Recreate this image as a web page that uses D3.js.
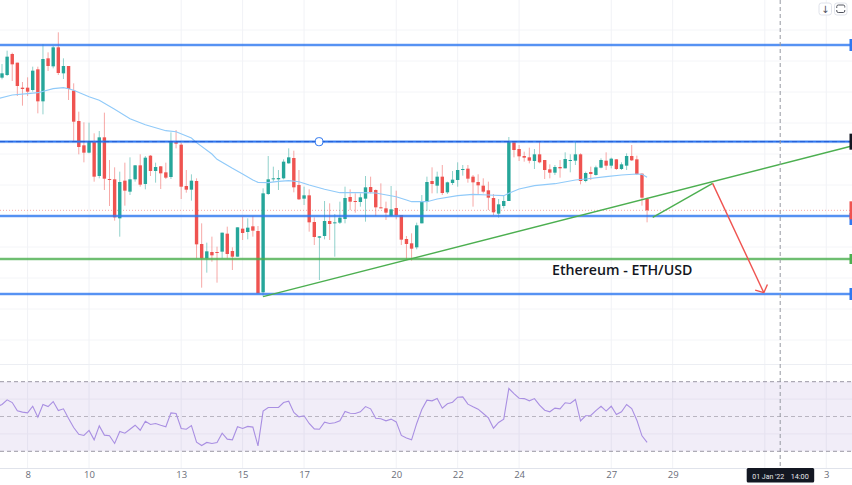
<!DOCTYPE html>
<html>
<head>
<meta charset="utf-8">
<style>
  html, body { margin: 0; padding: 0; background: #fff; }
  svg { display: block; }
  text { font-family: "Open Sans", sans-serif; }
</style>
<script src="https://cdnjs.cloudflare.com/ajax/libs/d3/7.8.5/d3.min.js"></script>
</head>
<body>
<svg id="chart" width="852" height="485"></svg>
<script>
// price values are estimated off the picture, the price axis is hidden in the reference
var opens = [4302,4310,4373,4347,4272,4272,4265,4327,4231,4360,4336,4393,4315,4337,4263,4172,4099,4077,4109,4007,4123,3998,3997,3880,3993,3960,3997,4039,3983,4068,4022,4036,4018,4004,4109,4101,3977,3966,3992,3803,3760,3779,3779,3780,3834,3782,3765,3849,3839,3856,3842,3658,3953,3997,3997,4000,4045,4061,3980,3939,3949,3869,3822,3827,3872,3866,3867,3878,3944,3932,3929,3939,3974,3965,3913,3910,3887,3911,3890,3818,3805,3793,3865,3929,3992,3978,4005,3958,3986,3995,4026,4029,4005,3989,3978,3964,3941,3894,3917,3932,4108,4088,4067,4063,4052,4072,4055,4027,4017,4034,4030,4053,4053,4072,3992,4019,4010,4032,4053,4038,4057,4028,4038,4067,4057,4014,3938];
var highs = [4343,4383,4377,4347,4289,4303,4335,4335,4403,4378,4397,4438,4360,4337,4285,4200,4168,4167,4135,4142,4197,4055,4033,4020,4047,4063,4040,4072,4067,4070,4047,4037,4047,4138,4145,4107,4025,4012,4000,3865,3807,3825,3795,3837,3855,3793,3853,3885,3880,3887,3857,3970,4067,4035,4025,4057,4090,4083,4025,3975,3967,3883,3827,3932,3925,3893,3930,3975,3967,3955,3955,4007,4005,3967,3985,3930,3977,3963,3890,3827,3835,3867,3950,4005,4033,4020,4040,3990,4022,4048,4040,4040,4010,4012,4000,3990,3953,3938,3948,4124,4112,4100,4080,4092,4088,4112,4055,4042,4040,4055,4078,4072,4110,4075,4020,4035,4038,4060,4078,4062,4058,4048,4075,4100,4068,4015,3942];
var lows = [4297,4307,4292,4247,4218,4247,4260,4195,4192,4322,4330,4310,4298,4235,4112,4072,4048,4075,3990,4000,3965,3917,3873,3825,3918,3950,3990,3975,3967,4007,3987,3968,3998,3998,4090,3938,3957,3933,3760,3672,3717,3750,3687,3760,3760,3725,3765,3815,3817,3825,3655,3645,3950,3990,3965,3997,4044,3958,3935,3920,3840,3800,3695,3817,3815,3765,3863,3865,3905,3897,3915,3870,3955,3887,3910,3875,3885,3877,3800,3757,3753,3787,3865,3903,3955,3955,3950,3953,3980,3975,4008,3987,3915,3950,3955,3905,3890,3882,3910,3932,4063,4052,4050,4045,4028,4045,3998,4000,4010,4002,4030,4018,4040,3982,3988,3995,4008,4030,4025,4030,4025,4025,4025,4052,4010,3918,3868];
var closes = [4315,4365,4342,4277,4268,4260,4323,4231,4358,4337,4393,4316,4337,4268,4170,4094,4077,4109,4005,4123,3999,3996,3883,3989,3963,3997,4039,3981,4062,4022,4034,4015,4002,4109,4104,3975,3966,3993,3802,3760,3781,3769,3777,3837,3773,3765,3853,3836,3852,3843,3655,3955,3997,4000,4001,4050,4063,3973,3937,3949,3868,3824,3826,3872,3863,3868,3882,3941,3930,3930,3943,3973,3959,3913,3910,3897,3907,3889,3816,3803,3789,3859,3929,3989,3983,4005,3956,3988,3996,4025,4028,3999,3988,3979,3960,3942,3898,3922,3932,4112,4085,4066,4062,4053,4072,4048,4025,4017,4034,4030,4058,4055,4072,3992,4016,4013,4033,4055,4038,4059,4028,4042,4067,4054,4013,3942,3904];

var maBars = [-1,2,5,7,10,12,13,14,17,19,22,25,28,32,34,37,38,41,42,45,47,49,50,52,54,56,58,60,63,66,70,73,77,79,80,83,85,89,92,95,98,99,101,104,108,112,114,118,121,124,125,126];
var maValues = [4238,4250,4254,4257,4269,4272,4269,4264,4245,4234,4207,4179,4161,4143,4140,4121,4107,4073,4057,4030,4013,3995,3988,3987,3991,3993,3990,3980,3967,3957,3957,3956,3945,3935,3930,3930,3938,3948,3952,3950,3948,3955,3968,3978,3984,3995,3998,4005,4010,4013,4012,4003];

// first value sits one bar left of the first candle
var rsiValues = [55.5,56.9,59.6,58.0,53.3,52.5,52.1,55.9,49.6,56.9,55.7,58.6,53.4,54.4,48.9,43.7,39.8,39.1,42.0,36.6,44.6,39.3,38.9,34.5,41.4,40.4,42.7,45.0,42.1,47.3,45.4,46.0,45.0,44.1,52.1,51.7,43.1,42.7,44.8,35.2,33.3,35.1,34.5,35.1,40.4,37.0,36.6,44.1,43.1,44.3,43.9,33.1,53.1,55.2,55.2,55.2,58.0,58.8,52.3,49.8,50.4,46.0,42.9,42.7,46.7,46.0,46.4,47.5,52.9,51.9,51.7,52.7,55.7,54.4,49.0,48.7,47.5,48.5,46.9,39.1,37.7,36.6,46.0,54.0,59.4,59.0,60.3,54.8,57.3,58.2,61.1,61.3,57.1,55.6,54.2,51.7,49.2,43.3,46.6,48.5,66.1,63.2,60.5,60.3,59.0,60.3,56.5,53.6,52.7,54.8,54.4,57.9,57.5,59.8,47.5,50.4,50.6,53.4,55.9,53.1,55.9,51.1,52.7,56.9,54.6,47.9,38.9,35.1];

// the Jan 1 gridline has no label, the crosshair tag covers it
var gridBars = [5,17,35,47,59,77,89,101,119,131,149,161];
var tickBars = [5,17,35,47,59,77,89,101,119,131,161];
var tickLabels = ['8','10','13','15','17','20','22','24','27','29','3'];

var gridPrices = [4445,4352,4259,4166,4073,3980,3887,3794,3701,3608,3515];
var blueLevels = [4400,4110,3887,3653];
var greenLevel = 3758;
var rsiBand = [70,30];
var rsiGrid = [60,40];

// drawings, as [bar, price]
var trendLine = [[51,3645],[166,4097]];
var rallyLine = [[127.1,3883],[138.8,3985]];
var dropLine = [[138.8,3985],[148.8,3657]];
var crossBar = 152;

var RED = '#ef5350', GREEN = '#26a69a', BLUE = '#2f78f0', DRAW_GREEN = '#4caf50';

var x = d3.scaleLinear().domain([0,162]).range([2,831.4]);
var y = d3.scaleLinear().domain([4535,3080]).range([0,485]);
var yRsi = d3.scaleLinear().domain(rsiBand).range([381.7,451.3]);
var axisY = 468.5;

var svg = d3.select('#chart');

///////////////////////////////////////////////////////////////////////////////
// grid

svg.append('g').selectAll('line').data(gridPrices).enter().append('line')
  .attr('x1',0).attr('x2',852)
  .attr('y1',function(d){return y(d);}).attr('y2',function(d){return y(d);})
  .attr('stroke','#f4f5f8');

svg.append('g').selectAll('line').data(gridBars).enter().append('line')
  .attr('x1',function(d){return x(d);}).attr('x2',function(d){return x(d);})
  .attr('y1',0).attr('y2',axisY)
  .attr('stroke','#f1f2f6');

svg.append('line').attr('x1',0).attr('x2',852).attr('y1',364.5).attr('y2',364.5).attr('stroke','#eceef3');

///////////////////////////////////////////////////////////////////////////////
// rsi pane

svg.append('rect')
  .attr('x',0).attr('width',852)
  .attr('y',yRsi(rsiBand[0])).attr('height',yRsi(rsiBand[1])-yRsi(rsiBand[0]))
  .attr('fill','#7e57c2').attr('fill-opacity',0.11);

svg.append('g').selectAll('line').data(rsiGrid).enter().append('line')
  .attr('x1',0).attr('x2',852)
  .attr('y1',function(d){return yRsi(d);}).attr('y2',function(d){return yRsi(d);})
  .attr('stroke','#e6e2f0');

svg.append('g').selectAll('line').data([70,50,30]).enter().append('line')
  .attr('x1',0).attr('x2',852)
  .attr('y1',function(d){return yRsi(d);}).attr('y2',function(d){return yRsi(d);})
  .attr('stroke','#8a8694').attr('stroke-opacity',function(d){return d === 50 ? 0.55 : 0.85;})
  .attr('stroke-dasharray','4 3');

svg.append('path')
  .attr('d',d3.line()
    .x(function(d,i){return x(i-1);})
    .y(function(d){return yRsi(d);})(rsiValues))
  .attr('fill','none').attr('stroke','#a98fe2').attr('stroke-width',1.1);

///////////////////////////////////////////////////////////////////////////////
// last price, moving average, candles

var lastClose = closes[closes.length-1];
svg.append('line')
  .attr('x1',0).attr('x2',852).attr('y1',y(lastClose)).attr('y2',y(lastClose))
  .attr('stroke',RED).attr('stroke-opacity',0.5).attr('stroke-dasharray','1 2');

var candles = svg.append('g').selectAll('g').data(d3.range(opens.length)).enter().append('g');

candles.append('line')
  .attr('x1',function(i){return x(i);}).attr('x2',function(i){return x(i);})
  .attr('y1',function(i){return y(highs[i]);}).attr('y2',function(i){return y(lows[i]);})
  .attr('stroke',candleColor).attr('stroke-opacity',0.5);

candles.append('rect')
  .attr('x',function(i){return x(i)-1.7;}).attr('width',3.4)
  .attr('y',function(i){return y(Math.max(opens[i],closes[i]));})
  .attr('height',function(i){return Math.max(1,Math.abs(y(opens[i])-y(closes[i])));})
  .attr('fill',candleColor);

function candleColor(i) {
  return closes[i] >= opens[i] ? GREEN : RED;
}

svg.append('path')
  .attr('d',d3.line()
    .x(function(d){return x(d);})
    .y(function(d,i){return y(maValues[i]);})(maBars))
  .attr('fill','none').attr('stroke','#90caf9').attr('stroke-width',1.1);

///////////////////////////////////////////////////////////////////////////////
// drawings

function level(price, color) {
  svg.append('line').attr('x1',0).attr('x2',852).attr('y1',y(price)).attr('y2',y(price))
    .attr('stroke',color).attr('stroke-width',3.4).attr('stroke-opacity',0.25);
  return svg.append('line').attr('x1',0).attr('x2',852).attr('y1',y(price)).attr('y2',y(price))
    .attr('stroke',color).attr('stroke-width',1.7);
}

blueLevels.forEach(function(p) { level(p,BLUE); });
level(greenLevel,DRAW_GREEN);

svg.append('line').attr('x1',0).attr('x2',852).attr('y1',y(blueLevels[1])).attr('y2',y(blueLevels[1]))
  .attr('stroke','#1c4fc4').attr('stroke-dasharray','5 3').attr('stroke-opacity',0.6);

function segment(pts, color, width) {
  return svg.append('line')
    .attr('x1',x(pts[0][0])).attr('y1',y(pts[0][1]))
    .attr('x2',x(pts[1][0])).attr('y2',y(pts[1][1]))
    .attr('stroke',color).attr('stroke-width',width);
}

segment(trendLine,DRAW_GREEN,1.4);
segment(rallyLine,DRAW_GREEN,1.4);
segment(dropLine,RED,1.4);

// arrow head on the drop line
var tipX = x(dropLine[1][0]), tipY = y(dropLine[1][1]);
var ang = Math.atan2(tipY-y(dropLine[0][1]),tipX-x(dropLine[0][0]));
[-0.85,0.85].forEach(function(a) {
  svg.append('line')
    .attr('x1',tipX).attr('y1',tipY)
    .attr('x2',tipX-9*Math.cos(ang+a)).attr('y2',tipY-9*Math.sin(ang+a))
    .attr('stroke',RED).attr('stroke-width',1.4);
});

svg.append('rect')
  .attr('x',x(61.2)).attr('y',y(blueLevels[1])-4).attr('width',7.5).attr('height',8).attr('rx',3)
  .attr('fill','#fff').attr('stroke',BLUE);

svg.append('text')
  .attr('x',552).attr('y',275)
  .attr('fill','#131722').attr('font-size',14.2).attr('font-weight',600)
  .text('Ethereum - ETH/USD');

///////////////////////////////////////////////////////////////////////////////
// price scale tags on the right edge

var tags = [
  {price:blueLevels[0],h:12,color:BLUE},
  {price:blueLevels[1],h:16,color:'#131722'},
  {price:3878,h:12,color:BLUE},
  {price:lastClose,h:18,color:RED},
  {price:greenLevel,h:10,color:DRAW_GREEN},
  {price:blueLevels[3],h:12,color:BLUE}
];

svg.append('g').selectAll('rect').data(tags).enter().append('rect')
  .attr('x',849.5).attr('width',2.5)
  .attr('y',function(d){return y(d.price)-d.h/2;})
  .attr('height',function(d){return d.h;})
  .attr('fill',function(d){return d.color;});

///////////////////////////////////////////////////////////////////////////////
// time axis and crosshair

svg.append('line')
  .attr('x1',x(crossBar)).attr('x2',x(crossBar)).attr('y1',0).attr('y2',axisY)
  .attr('stroke','#9598a1').attr('stroke-dasharray','4 3');

var axis = d3.axisBottom(x)
  .tickValues(tickBars)
  .tickSize(0)
  .tickPadding(3)
  .tickFormat(function(d,i){return tickLabels[i];});

var axisG = svg.append('g').attr('transform','translate(0,'+axisY+')').call(axis);
axisG.select('.domain').remove();
axisG.selectAll('text').attr('fill','#6a6d78').style('font-size','9.5px').style('font-family','"Open Sans", sans-serif');

svg.append('line').attr('x1',0).attr('x2',852).attr('y1',axisY).attr('y2',axisY).attr('stroke','#e0e3eb');

svg.append('rect')
  .attr('x',x(crossBar)-33.5).attr('y',axisY-0.5).attr('width',67.5).attr('height',14.5).attr('rx',1.5)
  .attr('fill','#131722');

svg.append('text')
  .attr('x',x(crossBar)-28).attr('y',479)
  .attr('textLength',32).attr('lengthAdjust','spacingAndGlyphs')
  .attr('fill','#e8e9ec').attr('font-size',8).style('font-family','Roboto')
  .text("01 Jan '22");

svg.append('text')
  .attr('x',x(crossBar)+10.5).attr('y',479)
  .attr('textLength',18).attr('lengthAdjust','spacingAndGlyphs')
  .attr('fill','#e8e9ec').attr('font-size',8).style('font-family','Roboto')
  .text('14:00');

///////////////////////////////////////////////////////////////////////////////
// the two small buttons top right

[[819,'down'],[834.5,'loop']].forEach(function(b) {
  svg.append('rect')
    .attr('x',b[0]).attr('y',3).attr('width',12.5).attr('height',12).attr('rx',2.5)
    .attr('fill','#fff').attr('stroke','#e0e3eb');
  var cx = b[0]+6.25;
  if (b[1] === 'down') {
    svg.append('text').attr('x',cx).attr('y',12.5).attr('text-anchor','middle')
      .attr('font-size',10).attr('fill','#50535e').style('font-family','"DejaVu Sans"').text('↓');
  } else {
    svg.append('path')
      .attr('d','M'+(cx-4)+',8 v-1.5 q0,-1.5 1.5,-1.5 h5 q1.5,0 1.5,1.5 v1 M'+(cx+4)+',10 v1 q0,1.5 -1.5,1.5 h-5 q-1.5,0 -1.5,-1.5 v-1')
      .attr('fill','none').attr('stroke','#50535e');
  }
});
</script>
</body>
</html>
